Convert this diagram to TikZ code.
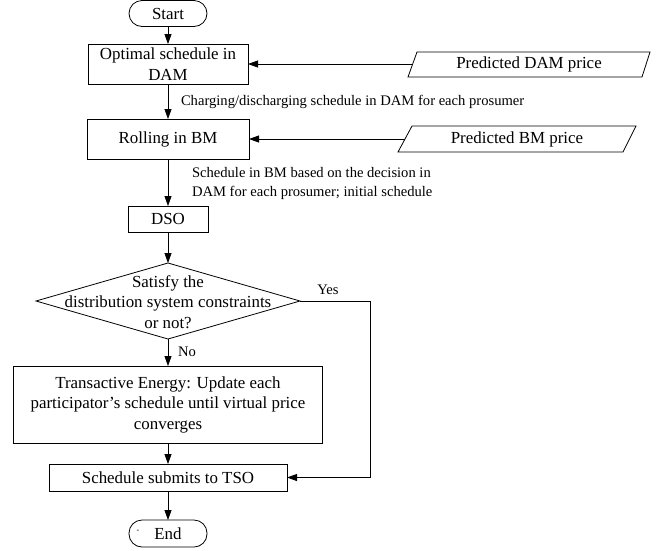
\documentclass[tikz,border=0pt]{standalone}
\usepackage{fontspec}
\setmainfont{Liberation Serif}
\usetikzlibrary{arrows.meta}
\begin{document}
\begin{tikzpicture}[x=1pt,y=-1pt,
  every node/.style={inner sep=0pt, outer sep=0pt},
  box/.style={draw, line width=0.8pt, rectangle, align=center, font=\fontsize{16.9}{20.5}\selectfont},
  term/.style={draw, line width=0.8pt, rectangle, rounded corners=13pt, font=\fontsize{16.9}{20}\selectfont},
  txt/.style={align=center, font=\fontsize{16.9}{20.5}\selectfont},
  lbl/.style={align=left, font=\fontsize{14.6}{19}\selectfont},
  arr/.style={line width=0.8pt, -{Triangle[length=10pt,width=7pt]}},
  ln/.style={line width=0.8pt}]
\useasboundingbox (0,0) rectangle (672,550);

% main chain
\node[term, minimum width=78pt, minimum height=26pt] (start) at (168,13.5) {Start};
\node[box, minimum width=160pt, minimum height=40pt] (opt) at (168,64) {Optimal schedule in\\DAM};
\node[box, minimum width=162pt, minimum height=40pt] (roll) at (168,139) {Rolling in BM};
\node[box, minimum width=80pt, minimum height=26pt] (dso) at (168,219) {DSO};

% decision diamond
\node[txt] (dec) at (168,302) {Satisfy the\\distribution system constraints\\or not?};
\coordinate (decT) at (168,263);
\coordinate (decB) at (168,339);
\coordinate (decL) at (36,301);
\coordinate (decR) at (300,301);
\draw[ln] (decT) -- (decR) -- (decB) -- (decL) -- cycle;

\node[box, minimum width=309pt, minimum height=77pt] (te) at (168,404.5) {Transactive Energy: Update each\\participator's schedule until virtual price\\converges};
\node[box, minimum width=238pt, minimum height=27pt] (tso) at (168,477.5) {Schedule submits to TSO};
\node[term, minimum width=78pt, minimum height=27pt] (end) at (168,533.5) {End};
\node[font=\fontsize{8}{8}\selectfont] (enddash) at (138,531) {-};

% parallelograms
\node[txt] (dam) at (529,64.5) {Predicted DAM price};
\draw[ln] (408,77) -- (417,52) -- (650,52) -- (642,77) -- cycle;
\coordinate (damL) at (412.5,64);
\node[txt] (bm) at (517,139) {Predicted BM price};
\draw[ln] (398,152) -- (412,126) -- (636,126) -- (623,152) -- cycle;
\coordinate (bmL) at (405,139);

% connectors
\draw[arr] (start.south) -- (opt.north);
\draw[arr] (opt.south) -- (roll.north);
\draw[arr] (roll.south) -- (dso.north);
\draw[arr] (dso.south) -- (decT);
\draw[arr] (decB) -- (te.north);
\draw[arr] (te.south) -- (tso.north);
\draw[arr] (tso.south) -- (end.north);
\draw[arr] (damL) -- (opt.east);
\draw[arr] (bmL) -- (roll.east);
\coordinate (ycorner) at (370,301);
\draw[arr] (decR) -- (ycorner) |- (tso.east);

% labels
\node[lbl, anchor=west] (l1) at (181,101.5) {Charging/discharging schedule in DAM for each prosumer};
\node[lbl, anchor=west] (l2) at (192,183.5) {Schedule in BM based on the decision in\\DAM for each prosumer; initial schedule};
\node[lbl] (yes) at (328,290) {Yes};
\node[lbl] (no) at (187,352) {No};
\end{tikzpicture}
\end{document}
